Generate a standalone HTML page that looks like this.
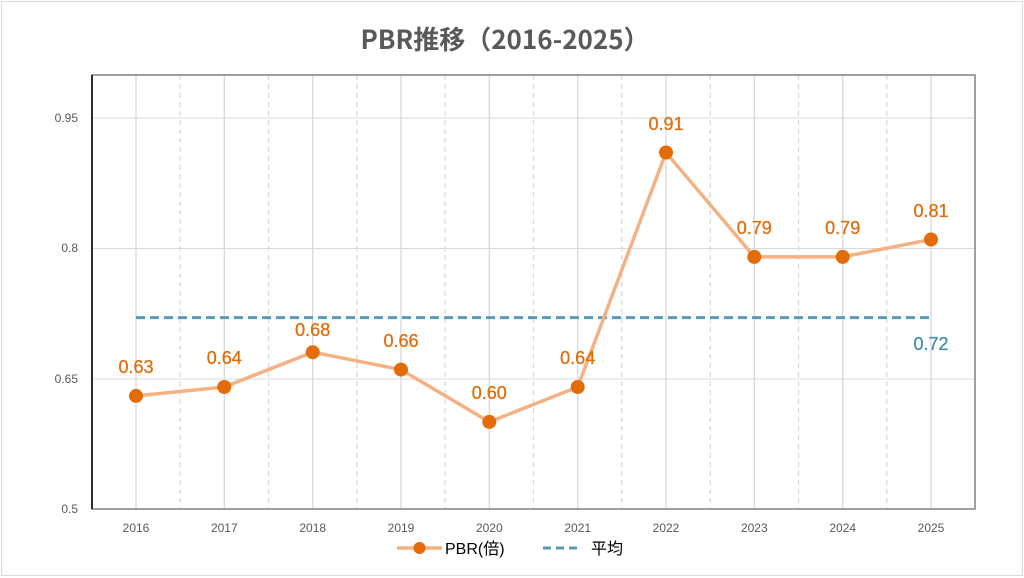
<!DOCTYPE html>
<html><head><meta charset="utf-8"><style>
body{margin:0;background:#fff;}
svg{display:block;font-family:"Liberation Sans","Noto Sans CJK JP",sans-serif;}
</style></head><body>
<svg width="1024" height="578" viewBox="0 0 1024 578">
<rect x="1.5" y="1.5" width="1021" height="574" fill="#fff" stroke="#d9d9d9"/>
<text x="505" y="49" text-anchor="middle" font-size="26" font-weight="bold" fill="#595959" font-family="'Noto Sans CJK JP',sans-serif">PBR推移（2016-2025）</text>
<g stroke="#d9d9d9" stroke-width="1">
<line x1="92" y1="118" x2="975" y2="118"/>
<line x1="92" y1="248.5" x2="975" y2="248.5"/>
<line x1="92" y1="379" x2="975" y2="379"/>
</g>
<g stroke="#d9d9d9" stroke-width="1.3">
<line x1="136" y1="75" x2="136" y2="509"/><line x1="224.3" y1="75" x2="224.3" y2="509"/><line x1="312.7" y1="75" x2="312.7" y2="509"/><line x1="401" y1="75" x2="401" y2="509"/><line x1="489.3" y1="75" x2="489.3" y2="509"/><line x1="577.7" y1="75" x2="577.7" y2="509"/><line x1="666" y1="75" x2="666" y2="509"/><line x1="754.3" y1="75" x2="754.3" y2="509"/><line x1="842.7" y1="75" x2="842.7" y2="509"/><line x1="931" y1="75" x2="931" y2="509"/>
</g>
<g stroke="#d9d9d9" stroke-width="1.3" stroke-dasharray="5,4">
<line x1="180.2" y1="75" x2="180.2" y2="509"/><line x1="268.5" y1="75" x2="268.5" y2="509"/><line x1="356.8" y1="75" x2="356.8" y2="509"/><line x1="445.2" y1="75" x2="445.2" y2="509"/><line x1="533.5" y1="75" x2="533.5" y2="509"/><line x1="621.8" y1="75" x2="621.8" y2="509"/><line x1="710.2" y1="75" x2="710.2" y2="509"/><line x1="798.5" y1="75" x2="798.5" y2="509"/><line x1="886.8" y1="75" x2="886.8" y2="509"/>
</g>
<rect x="92" y="75" width="883" height="434" fill="none" stroke="#808080" stroke-width="1.5"/>
<line x1="92" y1="75" x2="92" y2="509" stroke="#000" stroke-width="1.5"/>
<g font-size="12" fill="#595959" text-anchor="end">
<text x="78" y="122">0.95</text><text x="78" y="252">0.8</text><text x="78" y="383">0.65</text><text x="78" y="513">0.5</text>
</g>
<g font-size="12" fill="#595959" text-anchor="middle">
<text x="136" y="532">2016</text><text x="224.3" y="532">2017</text><text x="312.7" y="532">2018</text><text x="401" y="532">2019</text><text x="489.3" y="532">2020</text><text x="577.7" y="532">2021</text><text x="666" y="532">2022</text><text x="754.3" y="532">2023</text><text x="842.7" y="532">2024</text><text x="931" y="532">2025</text>
</g>
<line x1="136" y1="317.6" x2="931" y2="317.6" stroke="#5b9bb0" stroke-width="3" stroke-dasharray="9,5"/>
<polyline fill="none" stroke="#f4b183" stroke-width="3.5" points="136,395.9 224.3,387 312.7,352.2 401,369.6 489.3,421.9 577.7,387 666,152.5 754.3,256.9 842.7,256.9 931,239.5"/>
<g fill="#e36c09">
<circle cx="136" cy="395.9" r="7"/><circle cx="224.3" cy="387" r="7"/><circle cx="312.7" cy="352.2" r="7"/><circle cx="401" cy="369.6" r="7"/><circle cx="489.3" cy="421.9" r="7"/><circle cx="577.7" cy="387" r="7"/><circle cx="666" cy="152.5" r="7"/><circle cx="754.3" cy="256.9" r="7"/><circle cx="842.7" cy="256.9" r="7"/><circle cx="931" cy="239.5" r="7"/>
</g>
<g font-size="18" fill="#e36c09" text-anchor="middle" stroke="#e36c09" stroke-width="0.3">
<text x="136" y="373">0.63</text><text x="224.3" y="364">0.64</text><text x="312.7" y="336">0.68</text><text x="401" y="347">0.66</text><text x="489.3" y="399">0.60</text><text x="577.7" y="364">0.64</text><text x="666" y="130">0.91</text><text x="754.3" y="234">0.79</text><text x="842.7" y="234">0.79</text><text x="931" y="217">0.81</text>
</g>
<text x="931" y="350" font-size="18" fill="#3f8fa8" text-anchor="middle" stroke="#3f8fa8" stroke-width="0.3">0.72</text>
<line x1="397" y1="548" x2="442" y2="548" stroke="#f4b183" stroke-width="3.5"/>
<circle cx="419.5" cy="548" r="6" fill="#e36c09"/>
<text x="445" y="554" font-size="16" fill="#000" font-family="'Liberation Sans','Noto Sans CJK JP',sans-serif">PBR(倍)</text>
<line x1="543" y1="548" x2="582" y2="548" stroke="#5b9bb0" stroke-width="3" stroke-dasharray="8,5"/>
<text x="591" y="554" font-size="16" fill="#000" font-family="'Noto Sans CJK JP',sans-serif">平均</text>
</svg>
</body></html>
